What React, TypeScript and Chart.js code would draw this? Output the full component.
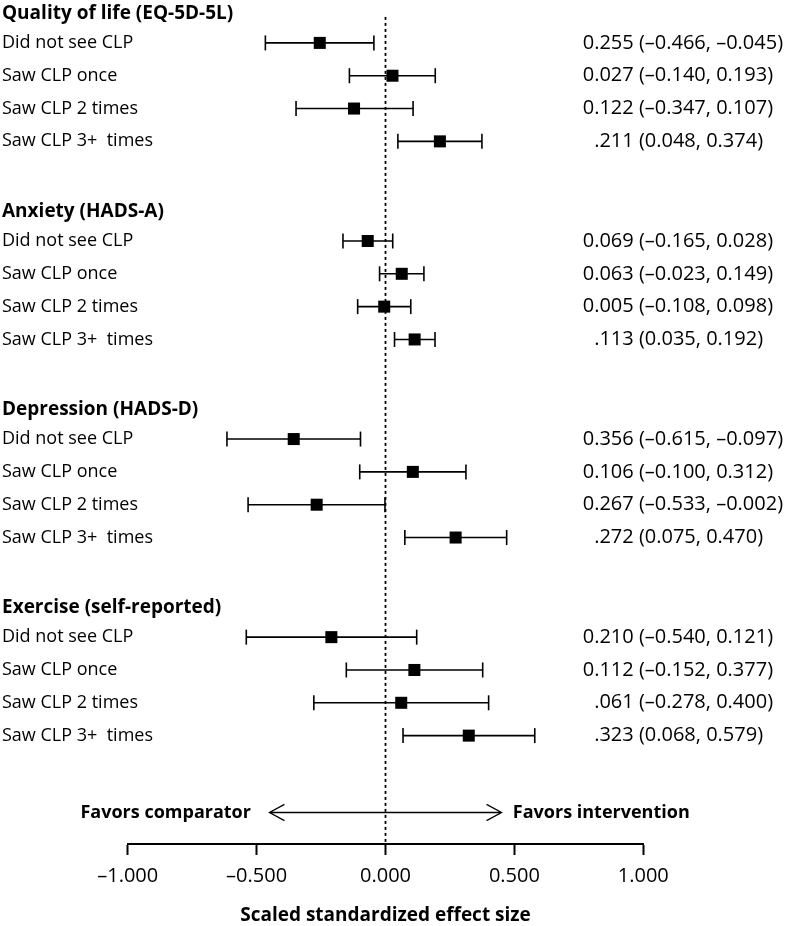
import React, { useEffect, useRef } from "react";
import { Chart, registerables } from "chart.js";

Chart.register(...registerables);

const groupTitles = [
  "Quality of life (EQ-5D-5L)",
  "Anxiety (HADS-A)",
  "Depression (HADS-D)",
  "Exercise (self-reported)",
];
const rowLabels = ["Did not see CLP", "Saw CLP once", "Saw CLP 2 times", "Saw CLP 3+  times"];

const qolEst = [-0.255, 0.027, -0.122, 0.211];
const qolLow = [-0.466, -0.14, -0.347, 0.048];
const qolHigh = [-0.045, 0.193, 0.107, 0.374];
const qolText = ["0.255 (\u20130.466, \u20130.045)", "0.027 (\u20130.140, 0.193)", "0.122 (\u20130.347, 0.107)", "\u2007.211 (0.048, 0.374)"];

const anxEst = [-0.069, 0.063, -0.005, 0.113];
const anxLow = [-0.165, -0.023, -0.108, 0.035];
const anxHigh = [0.028, 0.149, 0.098, 0.192];
const anxText = ["0.069 (\u20130.165, 0.028)", "0.063 (\u20130.023, 0.149)", "0.005 (\u20130.108, 0.098)", "\u2007.113 (0.035, 0.192)"];

const depEst = [-0.356, 0.106, -0.267, 0.272];
const depLow = [-0.615, -0.1, -0.533, 0.075];
const depHigh = [-0.097, 0.312, -0.002, 0.47];
const depText = ["0.356 (\u20130.615, \u20130.097)", "0.106 (\u20130.100, 0.312)", "0.267 (\u20130.533, \u20130.002)", "\u2007.272 (0.075, 0.470)"];

const exEst = [-0.21, 0.112, 0.061, 0.323];
const exLow = [-0.54, -0.152, -0.278, 0.068];
const exHigh = [0.121, 0.377, 0.4, 0.579];
const exText = ["0.210 (\u20130.540, 0.121)", "0.112 (\u20130.152, 0.377)", "\u2007.061 (\u20130.278, 0.400)", "\u2007.323 (0.068, 0.579)"];

const xTicks = [-1, -0.5, 0, 0.5, 1];
const axisTitle = "Scaled standardized effect size";
const favorsLeft = "Favors comparator";
const favorsRight = "Favors intervention";

// layout (in row units of the y scale)
const Y_MAX = 25.97;
const HEADER0 = 0.41;
const GROUP_PITCH = 6.095;
const FIRST_ROW = 0.91;
const ROW_STEP = 1.01;
const ZERO_TOP = 0.52;
const ARROW_Y = 25.0;
const ARROW_X = 0.45;
const HEAD_DX = 0.058;
const HEAD_DY = 0.25;
const TEXT_COL_X = 0.765;
const FAVORS_LEFT_X = -0.522;
const FAVORS_RIGHT_X = 0.494;

const FONT = '"Open Sans", sans-serif';
const FS_LABEL = 18;
const FS_NUM = 20;
const FS_HEAD = 19;
const FS_FAVORS = 18;

const groups = [
  { est: qolEst, low: qolLow, high: qolHigh, text: qolText },
  { est: anxEst, low: anxLow, high: anxHigh, text: anxText },
  { est: depEst, low: depLow, high: depHigh, text: depText },
  { est: exEst, low: exLow, high: exHigh, text: exText },
];

const headerY = (g: number) => HEADER0 + g * GROUP_PITCH;
const rowY = (g: number, k: number) => headerY(g) + FIRST_ROW + k * ROW_STEP;

const fmtTick = (v: number) => (v < 0 ? "\u2013" + Math.abs(v).toFixed(3) : v.toFixed(3));

export default function App() {
  const ref = useRef<HTMLCanvasElement | null>(null);

  useEffect(() => {
    if (!ref.current) return;

    const ciData: any[] = [];
    const capData: any[] = [];
    const estData: any[] = [];
    groups.forEach((gr, g) => {
      gr.est.forEach((e, k) => {
        const y = rowY(g, k);
        ciData.push({ x: gr.low[k], y }, { x: gr.high[k], y }, { x: gr.high[k], y: null });
        capData.push({ x: gr.low[k], y }, { x: gr.high[k], y });
        estData.push({ x: e, y });
      });
    });

    const arrowData = [
      { x: -ARROW_X, y: ARROW_Y },
      { x: ARROW_X, y: ARROW_Y },
      { x: 0, y: null },
      { x: -ARROW_X + HEAD_DX, y: ARROW_Y - HEAD_DY },
      { x: -ARROW_X, y: ARROW_Y },
      { x: -ARROW_X + HEAD_DX, y: ARROW_Y + HEAD_DY },
      { x: 0, y: null },
      { x: ARROW_X - HEAD_DX, y: ARROW_Y - HEAD_DY },
      { x: ARROW_X, y: ARROW_Y },
      { x: ARROW_X - HEAD_DX, y: ARROW_Y + HEAD_DY },
    ];

    const textPlugin = {
      id: "forestText",
      afterDraw(chart: any) {
        const ctx = chart.ctx;
        const ys = chart.scales.y;
        const xs = chart.scales.x;
        ctx.save();
        ctx.fillStyle = "#000";
        ctx.textBaseline = "middle";
        groups.forEach((gr, g) => {
          ctx.font = `bold ${FS_HEAD}px ${FONT}`;
          ctx.textAlign = "left";
          ctx.fillText(groupTitles[g], 2, ys.getPixelForValue(headerY(g)));
          rowLabels.forEach((lab, k) => {
            const py = ys.getPixelForValue(rowY(g, k));
            ctx.textAlign = "left";
            ctx.font = `${FS_LABEL}px ${FONT}`;
            ctx.fillText(lab, 2, py);
            ctx.font = `${FS_NUM}px ${FONT}`;
            ctx.fillText(gr.text[k], xs.getPixelForValue(TEXT_COL_X), py);
          });
        });
        ctx.font = `bold ${FS_FAVORS}px ${FONT}`;
        const ay = ys.getPixelForValue(ARROW_Y);
        ctx.textAlign = "right";
        ctx.fillText(favorsLeft, xs.getPixelForValue(FAVORS_LEFT_X), ay);
        ctx.textAlign = "left";
        ctx.fillText(favorsRight, xs.getPixelForValue(FAVORS_RIGHT_X), ay);
        ctx.restore();
      },
    };

    const chart = new Chart(ref.current, {
      type: "scatter",
      data: {
        datasets: [
          {
            data: estData,
            pointStyle: "rect",
            pointRadius: 8.5,
            pointBackgroundColor: "#000",
            pointBorderWidth: 0,
            showLine: false,
            order: 1,
            clip: false,
          } as any,
          {
            data: capData,
            pointStyle: "line",
            pointRotation: 90,
            pointRadius: 7.5,
            pointBorderColor: "#000",
            pointBorderWidth: 1.6,
            showLine: false,
            order: 2,
            clip: false,
          } as any,
          {
            data: ciData,
            showLine: true,
            spanGaps: false,
            borderColor: "#000",
            borderWidth: 1.6,
            pointRadius: 0,
            order: 3,
            clip: false,
          } as any,
          {
            data: arrowData,
            showLine: true,
            spanGaps: false,
            borderColor: "#000",
            borderWidth: 1.3,
            pointRadius: 0,
            order: 4,
            clip: false,
          } as any,
          {
            data: [
              { x: 0, y: ZERO_TOP },
              { x: 0, y: Y_MAX },
            ],
            showLine: true,
            borderColor: "#000",
            borderWidth: 1.8,
            borderDash: [3, 3],
            pointRadius: 0,
            order: 5,
            clip: false,
          } as any,
        ],
      },
      options: {
        animation: false,
        responsive: false,
        devicePixelRatio: 1,
        events: [],
        layout: { autoPadding: false, padding: { left: 127.7, right: 142.7, top: 0, bottom: 0 } },
        plugins: { legend: { display: false }, tooltip: { enabled: false }, title: { display: false } },
        scales: {
          x: {
            type: "linear",
            min: -1,
            max: 1,
            afterBuildTicks: (s: any) => {
              s.ticks = xTicks.map((v) => ({ value: v }));
            },
            afterFit: (s: any) => {
              s.height = 82;
            },
            ticks: {
              color: "#000",
              font: { family: FONT, size: FS_NUM },
              padding: 9,
              maxRotation: 0,
              autoSkip: false,
              callback: (v: any) => fmtTick(Number(v)),
            },
            grid: {
              drawOnChartArea: false,
              drawTicks: true,
              tickLength: 11,
              tickWidth: 2,
              tickColor: "#000",
            },
            border: { display: true, color: "#000", width: 2 },
            title: {
              display: true,
              text: axisTitle,
              color: "#000",
              font: { family: FONT, size: FS_HEAD, weight: "bold", lineHeight: 1.0 },
              padding: { top: 4, bottom: 1 },
            },
          },
          y: {
            type: "linear",
            display: false,
            reverse: true,
            min: 0,
            max: Y_MAX,
          },
        },
      } as any,
      plugins: [textPlugin],
    });

    return () => chart.destroy();
  }, []);

  return (
    <div style={{ position: "absolute", left: 0, top: 0, width: 786, height: 926 }}>
      <canvas ref={ref} width={786} height={926} style={{ width: 786, height: 926 }} />
    </div>
  );
}
